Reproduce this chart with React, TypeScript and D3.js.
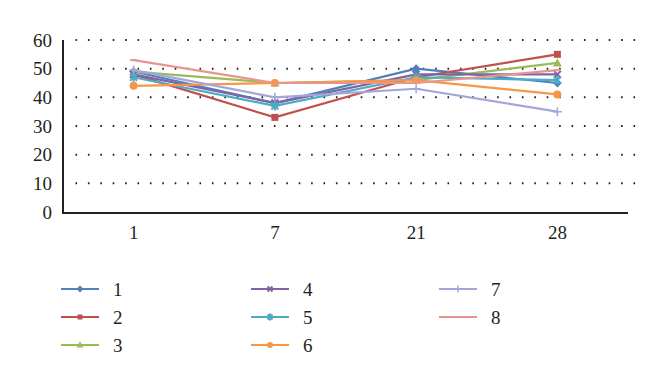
import React from "react";
import * as d3 from "d3";

const categories = ["1", "7", "21", "28"];
const seriesNames = ["1", "2", "3", "4", "5", "6", "7", "8"];
const s1 = [49, 38, 50, 45];
const s2 = [48, 33, 47, 55];
const s3 = [49, 45, 46, 52];
const s4 = [48, 38, 48, 48];
const s5 = [47, 37, 47, 46];
const s6 = [44, 45, 46, 41];
const s7 = [49.5, 40, 43, 35];
const s8 = [53, 45, 45, 49.5];
const yTicks = [0, 10, 20, 30, 40, 50, 60];

const seriesValues = [s1, s2, s3, s4, s5, s6, s7, s8];
const colors = ["#4F81BD", "#C0504D", "#9BBB59", "#8064A2", "#4BACC6", "#F79646", "#A3A6D8", "#E8958F"];
const markers = ["diamond", "square", "triangle", "x", "star", "circle", "plus", "dash"];

const W = 660, H = 382;
const left = 63, right = 628, top = 40, bottom = 212;
const textStyle: React.CSSProperties = { fontFamily: '"Liberation Serif", "DejaVu Serif", "Times New Roman", Times, serif' };

function Marker({ type, x, y, color, s }: { type: string; x: number; y: number; color: string; s: number }) {
  const h = s / 2;
  switch (type) {
    case "diamond":
      return <path d={`M${x},${y - h - 1}L${x + h + 1},${y}L${x},${y + h + 1}L${x - h - 1},${y}Z`} fill={color} />;
    case "square":
      return <rect x={x - h} y={y - h} width={s} height={s} fill={color} />;
    case "triangle":
      return <path d={`M${x},${y - h - 1}L${x + h + 1},${y + h}L${x - h - 1},${y + h}Z`} fill={color} />;
    case "x":
      return <path d={`M${x - h},${y - h}L${x + h},${y + h}M${x - h},${y + h}L${x + h},${y - h}`} stroke={color} strokeWidth={2} />;
    case "star":
      return <path d={`M${x - h},${y - h}L${x + h},${y + h}M${x - h},${y + h}L${x + h},${y - h}M${x},${y - h - 1}L${x},${y + h + 1}`} stroke={color} strokeWidth={2} />;
    case "circle":
      return <circle cx={x} cy={y} r={h + 0.5} fill={color} />;
    case "plus":
      return <path d={`M${x - h - 1},${y}L${x + h + 1},${y}M${x},${y - h - 1}L${x},${y + h + 1}`} stroke={color} strokeWidth={1.5} />;
    case "dash":
      return <path d={`M${x - h},${y}L${x + h},${y}`} stroke={color} strokeWidth={2} />;
    default:
      return null;
  }
}

export default function App() {
  const x = d3.scaleBand<string>().domain(categories).range([left, right]);
  const y = d3.scaleLinear().domain([0, 60]).range([bottom, top]);
  const cx = (c: string) => (x(c) as number) + x.bandwidth() / 2;
  const line = d3
    .line<number>()
    .x((_, i) => cx(categories[i]))
    .y((d) => y(d));

  const legendCols = [61, 251, 439];
  const legendRows = [289, 317, 345];

  return (
    <svg width={W} height={H} style={{ position: "absolute", left: 0, top: 0, background: "#fff" }}>
      <rect width={W} height={H} fill="#fff" />
      {yTicks.slice(1).map((t) => (
        <line key={t} x1={left + 12.5} x2={right + 14} y1={y(t)} y2={y(t)} stroke="#222" strokeWidth={2} strokeDasharray="1.6 10.8" />
      ))}
      {yTicks.map((t) => (
        <text key={t} x={52} y={y(t)} dy="0.35em" textAnchor="end" fontSize={19} fill="#231f20" style={textStyle}>
          {t}
        </text>
      ))}
      <line x1={left} x2={left} y1={top} y2={bottom + 1} stroke="#231f20" strokeWidth={2} />
      <line x1={left - 1} x2={right} y1={bottom + 1} y2={bottom + 1} stroke="#231f20" strokeWidth={2} />
      {categories.map((c) => (
        <text key={c} x={cx(c)} y={239} textAnchor="middle" fontSize={19} fill="#231f20" style={textStyle}>
          {c}
        </text>
      ))}
      {seriesValues.map((vals, si) => (
        <g key={si}>
          <path d={line(vals) || ""} fill="none" stroke={colors[si]} strokeWidth={2.2} />
          {vals.map((v, i) => (
            <Marker key={i} type={markers[si]} x={cx(categories[i])} y={y(v)} color={colors[si]} s={7} />
          ))}
        </g>
      ))}
      {seriesNames.map((n, i) => {
        const col = Math.floor(i / 3);
        const row = i % 3;
        const lx = legendCols[col];
        const ly = legendRows[row];
        return (
          <g key={n}>
            <line x1={lx} x2={lx + 38} y1={ly} y2={ly} stroke={colors[i]} strokeWidth={2} />
            <Marker type={markers[i]} x={lx + 19} y={ly} color={colors[i]} s={i === 7 ? 2 : 5} />
            <text x={lx + 52} y={ly} dy="0.35em" fontSize={19} fill="#231f20" style={textStyle}>
              {n}
            </text>
          </g>
        );
      })}
    </svg>
  );
}
